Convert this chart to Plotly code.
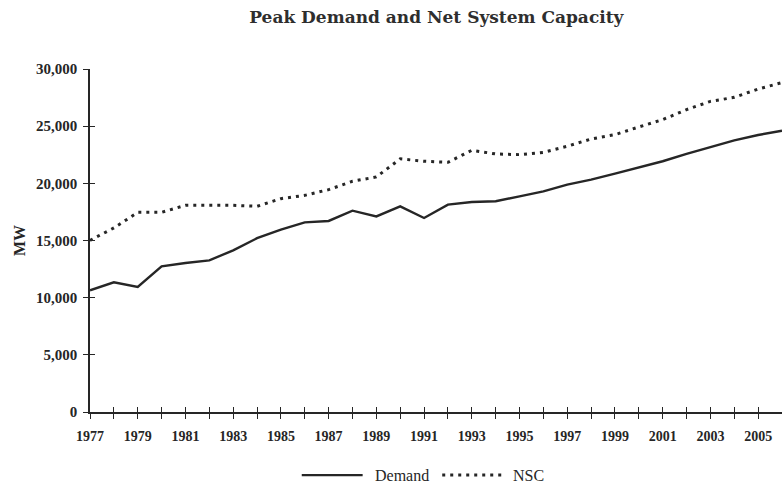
import plotly.graph_objects as go

years = list(range(1977, 2007))
demand = [10640, 11340, 10940, 12740, 13030, 13260, 14140, 15200, 15950, 16590,
          16710, 17610, 17110, 17990, 16970, 18140, 18370, 18430, 18860, 19300,
          19890, 20320, 20850, 21400, 21930, 22570, 23150, 23760, 24230, 24600]
nsc = [15010, 16100, 17460, 17460, 18080, 18080, 18080, 17990, 18660, 18950,
       19450, 20180, 20560, 22140, 21930, 21840, 22890, 22570, 22510, 22710,
       23240, 23880, 24260, 24930, 25570, 26450, 27170, 27520, 28250, 28810]
y_ticks = [0, 5000, 10000, 15000, 20000, 25000, 30000]
y_tick_labels = ["0", "5,000", "10,000", "15,000", "20,000", "25,000", "30,000"]
x_tick_labels = [str(y) for y in range(1977, 2006, 2)]
series_names = ["Demand", "NSC"]

FONT = "Liberation Serif"
TFONT = "DejaVu Serif"
INK = "#262626"
DOTS = "3px,5px"

fig = go.Figure()
fig.add_trace(go.Scatter(x=years, y=demand, name=series_names[0], mode="lines",
                         line=dict(color=INK, width=2.4), showlegend=False))
fig.add_trace(go.Scatter(x=years, y=nsc, name=series_names[1], mode="lines",
                         line=dict(color=INK, width=3, dash=DOTS), showlegend=False))
# invisible trace on overlay axes to show crossing ticks
fig.add_trace(go.Scatter(x=[years[0]], y=[0], xaxis="x2", yaxis="y2", mode="markers",
                         marker=dict(opacity=0), showlegend=False, hoverinfo="skip"))

# manual legend (line samples + labels) below the plot
leg_y = -0.184
shapes = [
    dict(type="line", xref="paper", yref="paper", x0=0.306, x1=0.394, y0=leg_y, y1=leg_y,
         line=dict(color=INK, width=2.2)),
    dict(type="line", xref="paper", yref="paper", x0=0.509, x1=0.595, y0=leg_y, y1=leg_y,
         line=dict(color=INK, width=3, dash=DOTS)),
]
annotations = [
    dict(text=series_names[0], xref="paper", yref="paper", x=0.409, y=leg_y, xanchor="left",
         yanchor="middle", showarrow=False, font=dict(family=FONT, size=16, color=INK)),
    dict(text=series_names[1], xref="paper", yref="paper", x=0.608, y=leg_y, xanchor="left",
         yanchor="middle", showarrow=False, font=dict(family=FONT, size=16, color=INK)),
]

fig.update_layout(
    width=782, height=485,
    margin=dict(l=90, r=0, t=69, b=73),
    paper_bgcolor="white", plot_bgcolor="white",
    title=dict(text="<b>Peak Demand and Net System Capacity</b>", x=0.558, xanchor="center",
               y=0.965, yanchor="middle", font=dict(family=TFONT, size=17, color="#2e2e2e")),
    font=dict(family=FONT, color=INK),
    shapes=shapes, annotations=annotations,
    xaxis=dict(range=[1977, 2006], tickmode="array", tickvals=list(range(1977, 2006, 2)),
               ticktext=[f"<b>{t}</b>" for t in x_tick_labels], automargin=False,
               minor=dict(dtick=1, ticks="outside", ticklen=5, tickcolor=INK, tick0=1977),
               ticks="outside", ticklen=5, tickcolor=INK, tickwidth=1.2, ticklabelstandoff=5,
               showline=True, linecolor=INK, linewidth=1.5, showgrid=False, zeroline=False,
               tickfont=dict(family=FONT, size=14, color=INK)),
    yaxis=dict(range=[0, 30000], tickmode="array", tickvals=y_ticks,
               ticktext=[f"<b>{t}</b>" for t in y_tick_labels], automargin=False,
               ticks="outside", ticklen=5, tickcolor=INK, tickwidth=1.2, ticklabelstandoff=3,
               showline=True, linecolor=INK, linewidth=1.5, showgrid=False, zeroline=False,
               tickfont=dict(family=FONT, size=15, color=INK),
               title=dict(text="<b>MW</b>", font=dict(family=FONT, size=16, color=INK), standoff=6)),
    xaxis2=dict(overlaying="x", matches="x", range=[1977, 2006], side="bottom", automargin=False,
                tickmode="linear", tick0=1977, dtick=1, ticks="inside", ticklen=5,
                tickcolor=INK, tickwidth=1.2, showticklabels=False, showgrid=False,
                zeroline=False, showline=False),
    yaxis2=dict(overlaying="y", matches="y", range=[0, 30000], side="left", automargin=False,
                tickmode="array", tickvals=y_ticks, ticks="inside", ticklen=5,
                tickcolor=INK, tickwidth=1.2, showticklabels=False, showgrid=False,
                zeroline=False, showline=False),
    showlegend=False,
)

fig.write_html("out.html", config={"displayModeBar": False},
               post_script="document.body.style.margin='0';document.body.style.overflow='hidden';")
